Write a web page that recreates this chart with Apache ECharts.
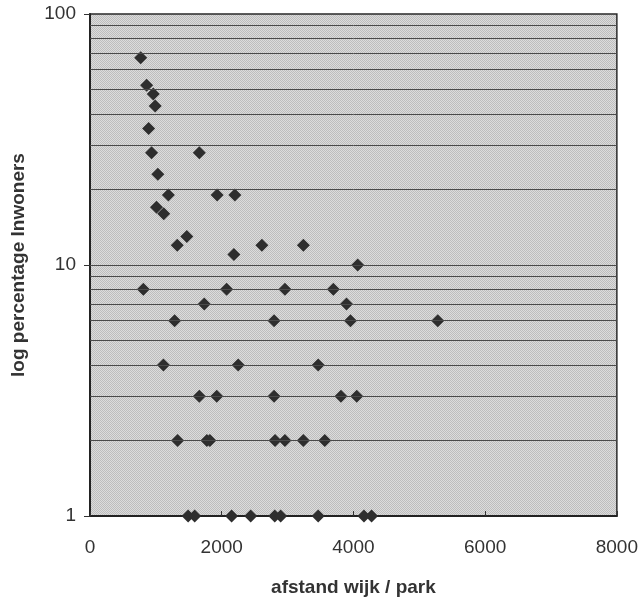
<!DOCTYPE html>
<html>
<head>
<meta charset="utf-8">
<script src="https://cdn.jsdelivr.net/npm/echarts@6/dist/echarts.min.js"></script>
<style>
html,body{margin:0;padding:0;background:#fff;}
#chart{width:641px;height:602px;}
</style>
</head>
<body>
<div id="chart"></div>
<script>
// afstand wijk / park (x) and percentage inwoners (y, log)
var afstand = [770, 860, 960, 990, 890, 935, 1660, 1030, 1190, 1930, 2200, 1010, 1120, 1470, 1325, 2610, 3240, 2185, 4065,
  810, 2075, 2960, 3695, 1735, 3895, 1285, 2795, 3955, 5280, 1115, 2250, 3465,
  1660, 1925, 2795, 3810, 4050, 1330, 1775, 1820, 2810, 2960, 3240, 3565,
  1490, 1590, 2150, 2440, 2805, 2895, 3465, 4160, 4275];
var percentage = [67, 52, 48, 43, 35, 28, 28, 23, 19, 19, 19, 17, 16, 13, 12, 12, 12, 11, 10,
  8, 8, 8, 8, 7, 7, 6, 6, 6, 6, 4, 4, 4,
  3, 3, 3, 3, 3, 2, 2, 2, 2, 2, 2, 2,
  1, 1, 1, 1, 1, 1, 1, 1, 1];
var gridValues = [2, 3, 4, 5, 6, 7, 8, 9, 10, 20, 30, 40, 50, 60, 70, 80, 90];
var xTicks = [0, 2000, 4000, 6000, 8000];

var points = afstand.map(function (x, i) { return [x, percentage[i]]; });

// halftone-like background pattern
var pc = document.createElement('canvas');
pc.width = 2; pc.height = 2;
var pctx = pc.getContext('2d');
pctx.fillStyle = '#dcdcdc'; pctx.fillRect(0, 0, 2, 2);
pctx.fillStyle = '#bdbdbd'; pctx.fillRect(0, 0, 1, 1); pctx.fillRect(1, 1, 1, 1);

var chart = echarts.init(document.getElementById('chart'), null, {renderer: 'canvas'});
var font = '"Liberation Sans", Arial, Helvetica, sans-serif';
chart.setOption({
  animation: false,
  backgroundColor: '#ffffff',
  grid: {
    left: 90, right: 23, top: 14, bottom: 85,
    show: true,
    backgroundColor: {image: pc, repeat: 'repeat'},
    borderColor: '#2a2a2a', borderWidth: 1.5
  },
  xAxis: {
    type: 'value', min: xTicks[0], max: xTicks[xTicks.length - 1], interval: 2000,
    name: 'afstand wijk / park', nameLocation: 'middle', nameGap: 62,
    nameTextStyle: {fontFamily: font, fontSize: 19, fontWeight: 'bold', color: '#333'},
    axisLine: {show: true, lineStyle: {color: '#222', width: 2}},
    axisTick: {show: true, inside: true, length: 5, lineStyle: {color: '#333'}},
    axisLabel: {fontFamily: font, fontSize: 19, color: '#333', margin: 22,
      formatter: function (v) { return String(v); }},
    splitLine: {show: false}
  },
  yAxis: {
    type: 'log', logBase: 10, min: 1, max: 100,
    name: 'log percentage Inwoners', nameLocation: 'middle', nameGap: 62, nameRotate: 90,
    nameTextStyle: {fontFamily: font, fontSize: 19, fontWeight: 'bold', color: '#333'},
    axisLine: {show: true, lineStyle: {color: '#222', width: 2}},
    axisTick: {show: true, inside: false, length: 6, lineStyle: {color: '#333'}},
    axisLabel: {fontFamily: font, fontSize: 19, color: '#333', margin: 14},
    splitLine: {show: false}
  },
  series: [{
    type: 'scatter',
    data: points,
    symbol: 'diamond',
    symbolSize: 13,
    itemStyle: {color: '#2e2e2e', opacity: 1},
    z: 3,
    markLine: {
      silent: true,
      symbol: ['none', 'none'],
      label: {show: false},
      lineStyle: {color: '#4a4a4a', width: 1, type: 'solid'},
      emphasis: {disabled: true},
      animation: false,
      data: gridValues.map(function (v) { return {yAxis: v}; })
    }
  }]
});
</script>
</body>
</html>
